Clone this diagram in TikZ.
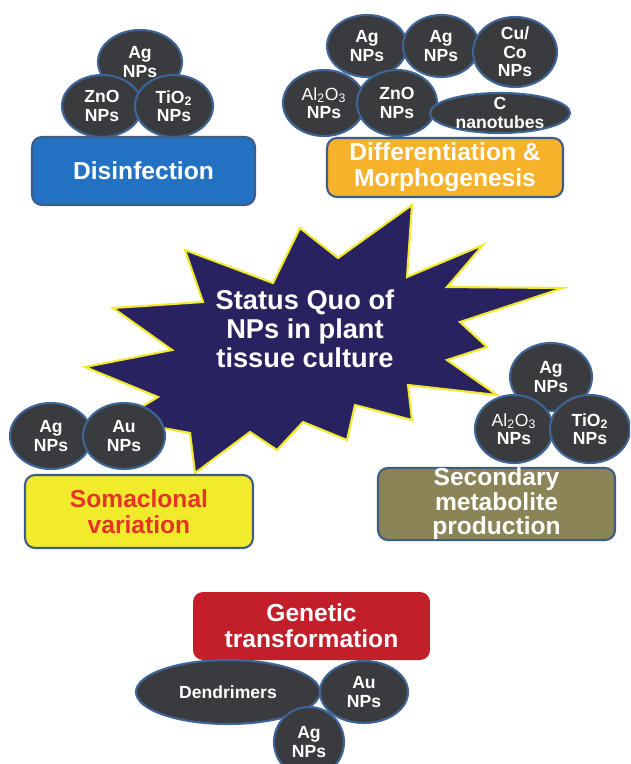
\documentclass[tikz,border=0pt]{standalone}
\usepackage{fontspec}
\setmainfont{Liberation Sans}
\usepackage{tikz}
\usetikzlibrary{shapes.geometric}

\definecolor{npfill}{HTML}{3A3B3E}
\definecolor{npedge}{HTML}{3F6496}
\definecolor{boxedge}{HTML}{3E5C85}
\definecolor{disblue}{HTML}{2271C2}
\definecolor{difforange}{HTML}{F6B22B}
\definecolor{somayellow}{HTML}{F1EB2C}
\definecolor{somared}{HTML}{E5332A}
\definecolor{secolive}{HTML}{8B8457}
\definecolor{genred}{HTML}{C21F2B}
\definecolor{starblue}{HTML}{282360}
\definecolor{staredge}{HTML}{F2E92C}

\newcommand{\npfont}{\fontsize{10}{10.5}\selectfont\bfseries}
\newcommand{\boxfont}{\fontsize{14}{15}\selectfont\bfseries}
\newcommand{\starfont}{\fontsize{15.5}{16.5}\selectfont\bfseries}

\begin{document}
\begin{tikzpicture}[x=0.02cm, y=-0.02cm,
	np/.style 2 args={ellipse, draw=npedge, fill=npfill, line width=1.2pt,
		minimum width=#1*0.4mm, minimum height=#2*0.4mm, inner sep=0pt},
	nptext/.style={text=white, font=\npfont, align=center, inner sep=0pt},
	box/.style 2 args={rectangle, rounded corners=2mm, draw=boxedge, line width=1.2pt,
		minimum width=#1*0.2mm, minimum height=#2*0.2mm, inner sep=0pt,
		font=\boxfont, align=center}]
	
	\clip (0,0) rectangle (630,764);
	
	\filldraw[fill=starblue, draw=staredge, line width=1.2pt]
		(185,250) -- (273,283) -- (300,228) -- (338,258) -- (412,205) -- (407,277)
		-- (483,245) -- (447,287) -- (563,288) -- (460,322) -- (487,347) -- (447,360)
		-- (497,395) -- (408,385) -- (412,420) -- (355,405) -- (347,440) -- (303,422)
		-- (277,450) -- (250,432) -- (195,473) -- (190,433) -- (120,420) -- (158,397)
		-- (85,367) -- (172,350) -- (113,308) -- (203,302) -- cycle;
	\node[font=\starfont, text=white, align=center] (status) at (305,329) {Status Quo of\\NPs in plant\\tissue culture};
	
	\node[np={42}{32}, label={[nptext]center:{Ag\\NPs}}] (dAg) at (140,62) {};
	\node[np={40}{31}, label={[nptext]center:{ZnO\\NPs}}] (dZnO) at (102,106) {};
	\node[np={39}{31}, label={[nptext]center:{TiO\textsubscript{2}\\NPs}}] (dTiO) at (174,106) {};
	\node[box={223}{68}, fill=disblue, text=white] (disinf) at (143.5,171) {Disinfection};
	
	\node[np={40}{31}, label={[nptext]center:{Ag\\NPs}}] (mAgA) at (367,46) {};
	\node[np={38}{31}, label={[nptext]center:{Ag\\NPs}}] (mAgB) at (441,46) {};
	\node[np={42}{35}, label={[nptext]center:{Cu/\\Co\\NPs}}] (mCuCo) at (515,52) {};
	\node[np={41}{33}, label={[nptext]center:{{\mdseries Al\textsubscript{2}O\textsubscript{3}}\\NPs}}] (mAl) at (324,103) {};
	\node[np={40}{33}, label={[nptext]center:{ZnO\\NPs}}] (mZnO) at (397,103) {};
	\node[np={70}{20}, label={[nptext]center:{C\\nanotubes}}] (mCnt) at (500,113) {};
	\node[box={236}{59}, fill=difforange, text=white] (diff) at (445,167.5) {Differentiation \&\\Morphogenesis};
	
	\node[np={41}{34}, label={[nptext]center:{Ag\\NPs}}] (sAg) at (551,377) {};
	\node[np={39}{34}, label={[nptext]center:{{\mdseries Al\textsubscript{2}O\textsubscript{3}}\\NPs}}] (sAl) at (514,429) {};
	\node[np={40}{34}, label={[nptext]center:{TiO\textsubscript{2}\\NPs}}] (sTiO) at (590,429) {};
	\node[box={237}{72}, fill=secolive, text=white, font=\fontsize{14}{14}\selectfont\bfseries] (second) at (496.5,504) {Secondary\\metabolite\\production};
	
	\node[np={41}{33}, label={[nptext]center:{Ag\\NPs}}] (lAg) at (51,436) {};
	\node[np={41}{33}, label={[nptext]center:{Au\\NPs}}] (lAu) at (124,436) {};
	\node[box={228}{73}, fill=somayellow, text=somared] (soma) at (139,511.5) {Somaclonal\\variation};
	
	\node[box={237}{68}, fill=genred, draw=none, text=white] (genet) at (311.5,626) {Genetic\\transformation};
	\node[np={92}{32}, label={[nptext]center:{Dendrimers}}] (gDen) at (228,692) {};
	\node[np={44}{31}, label={[nptext]center:{Au\\NPs}}] (gAu) at (364,692) {};
	\node[np={35}{35}, label={[nptext]center:{Ag\\NPs}}] (gAg) at (309,742) {};

\end{tikzpicture}
\end{document}
